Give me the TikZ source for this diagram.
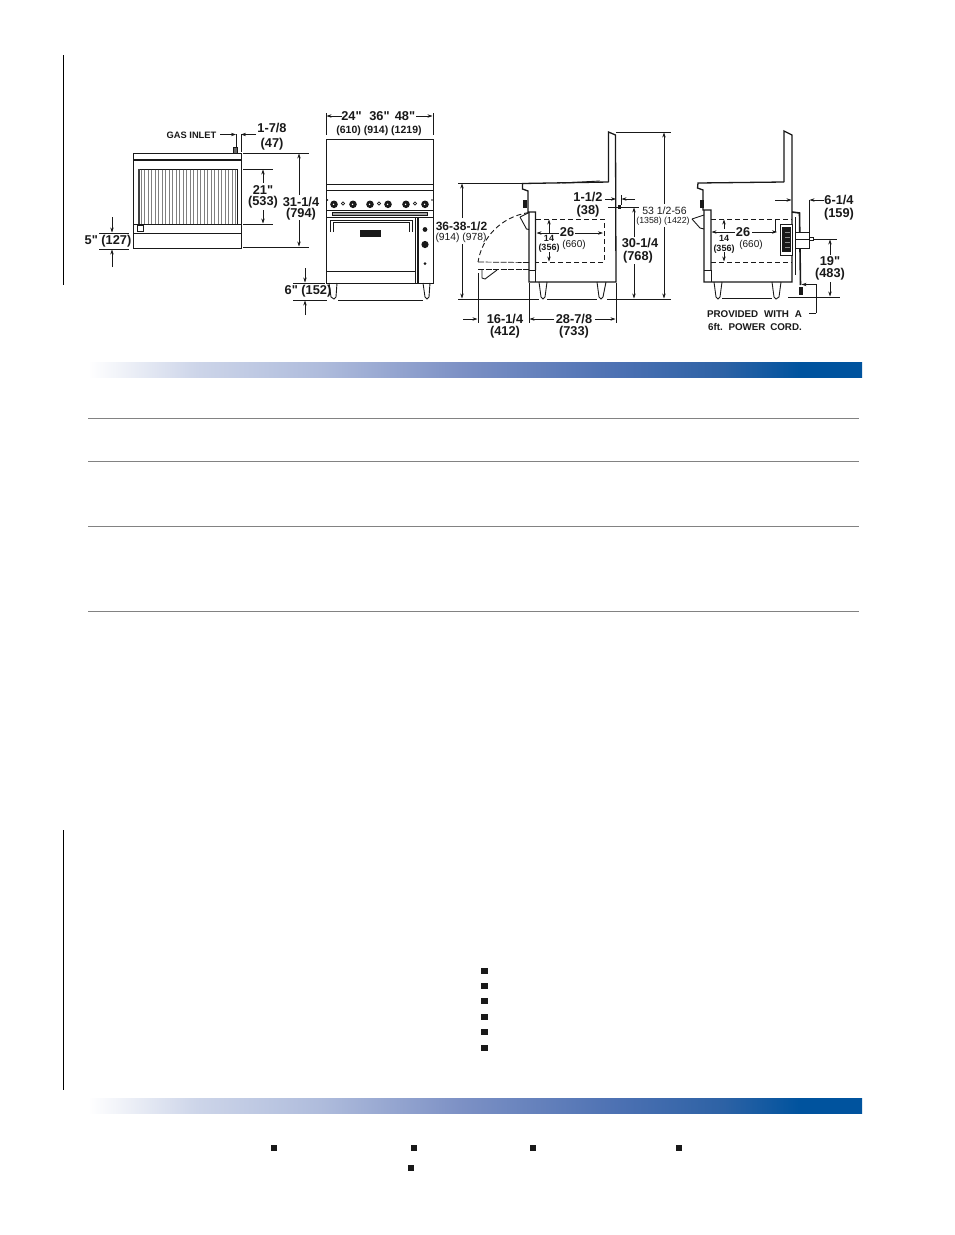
\documentclass[tikz,border=0pt]{standalone}
\usepackage{fontspec}
\setmainfont{Liberation Sans}
\newfontfamily\plainlib{Liberation Sans}
\newcommand{\inchmark}{{\plainlib\bfseries"}}
\usetikzlibrary{arrows.meta}
\definecolor{bar0}{RGB}{205,213,233}
\definecolor{bar1}{RGB}{175,188,220}
\definecolor{bar2}{RGB}{125,145,197}
\definecolor{bar3}{RGB}{75,112,178}
\definecolor{bar4}{RGB}{45,98,165}
\definecolor{bar5}{RGB}{0,83,158}
\pgfdeclarehorizontalshading{barshade}{100bp}{color(0bp)=(white);color(25bp)=(white);color(32bp)=(bar0);color(40bp)=(bar1);color(49bp)=(bar2);color(59.5bp)=(bar3);color(66bp)=(bar4);color(71bp)=(bar5);color(75bp)=(bar5);color(100bp)=(bar5)}
\definecolor{ink}{RGB}{25,25,25}
\definecolor{rule}{RGB}{130,130,130}
\tikzset{
 x=1pt,y=-1pt,
 dim/.style={line width=.7pt,draw=ink,-{Stealth[length=5pt,width=3.4pt]}},
 ext/.style={line width=.7pt,draw=ink},
 body/.style={line width=.9pt,draw=ink},
 heavy/.style={line width=1.3pt,draw=ink},
 dashln/.style={line width=.9pt,draw=ink,dash pattern=on 5pt off 3pt},
 lb/.style={inner sep=0pt,font=\fontsize{12.8}{13}\selectfont\bfseries,text=ink},
 lm/.style={inner sep=0pt,font=\fontsize{10.5}{11}\selectfont\bfseries,text=ink},
 ls/.style={inner sep=0pt,font=\fontsize{10}{11}\selectfont,text=ink},
 lt/.style={inner sep=0pt,font=\fontsize{9}{9}\selectfont\bfseries,text=ink},
 gridline/.style={line width=.8pt,draw=rule},
 bullet/.style={fill=ink,draw=none,minimum size=6.5pt,inner sep=0pt,rectangle},
 bar/.style={shading=barshade,draw=none},
}
\begin{document}
\begin{tikzpicture}
\useasboundingbox (0,0) rectangle (954,1235);
\fill[white] (0,0) rectangle (954,1235);
% margin rules
\draw[line width=1pt,black] (63.5,55) -- (63.5,285);
\draw[line width=1pt,black] (63.5,830) -- (63.5,1090);
% bars
\path[bar] (88,362) rectangle (862,377);
\path[bar] (88,1098) rectangle (862,1113);
% table rules
\foreach \y in {418.5,461.5,526.5,611.5}{\draw[gridline] (88,\y) -- (859,\y);}
% bullets
\foreach \y/\n in {971/a,986/b,1001/c,1017/d,1032/e,1048/f}{\node[bullet] (bul\n) at (484.5,\y) {};}
\node[bullet] (bt1) at (274,1148) {};
\node[bullet] (bt2) at (414,1148) {};
\node[bullet] (bt3) at (533,1148) {};
\node[bullet] (bt4) at (679,1148) {};
\node[bullet] (bt5) at (411,1168) {};
%% ---- rear view
\draw[body] (133,153) rectangle (241,248);
\draw[heavy] (133,160) -- (241,160);
\draw[body] (133,233) -- (241,233);
\draw[body] (133,224.5) -- (241,224.5);
\draw[body] (138,169) rectangle (237,224);
\foreach \x in {141,144.5,148,151,155,158.5,162,165,169,172.5,176,179,183,186.5,190,193,197,200.5,204,207,211,214.5,218,221,225,228.5,232,235}{\draw[line width=.8pt,draw=black!50] (\x,169.5) -- (\x,224);}
\draw[line width=1.5pt,draw=black!75] (139,169) -- (139,224);
\draw[body,fill=white] (137,225.5) rectangle (143,231);
\draw[body,fill=black!60] (233.5,147.5) rectangle (237,153);
\node[lt,font=\fontsize{9.3}{9}\selectfont\bfseries] (gas) at (191.5,135) {GAS INLET};
\node[lb] (t178) at (272,128) {1-7/8};
\node[lb] (t47) at (272,144) {(47)};
\node[lb] (t21) at (263,190.5) {21\inchmark};
\node[lb] (t533) at (263,202.5) {(533)};
\node[lb] (t3114) at (301,202) {31-1/4};
\node[lb] (t794) at (301,214) {(794)};
\node[lb] (t5) at (108,241) {5\inchmark{} (127)};
\draw[dim] (220,134.5) -- (236,134.5);
\draw[ext] (236,134) -- (236,148);
\draw[ext] (241,134) -- (241,152);
\draw[dim] (256,134.5) -- (241,134.5);
\draw[ext] (243,153) -- (309,153);
\draw[ext] (243,247) -- (309,247);
\draw[ext] (243,169) -- (273,169);
\draw[ext] (243,224) -- (273,224);
\draw[dim] (299,195) -- (299,153.5);
\draw[dim] (299,220) -- (299,246.5);
\draw[dim] (263,183) -- (263,169.5);
\draw[dim] (263,210) -- (263,223.5);
\draw[ext] (99,233) -- (129,233);
\draw[ext] (99,249) -- (129,249);
\draw[dim] (112,217) -- (112,232.5);
\draw[dim] (112,267) -- (112,249.5);
%% ---- front view
\draw[body] (326,139) rectangle (433,283);
\draw[body] (326,184) -- (433,184);
\draw[body] (326,190) -- (433,190);
\draw[heavy] (326,210.5) -- (433,210.5);
\draw[body,fill=black!35] (332,212) rectangle (427,215);
\draw[body] (326,217) -- (433,217);
\draw[body] (326,271) -- (415,271);
\draw[body] (415,217) -- (415,283);
\draw[heavy] (418,217) -- (418,283);
\draw[body] (330,232) -- (330,220.5) -- (412,220.5) -- (412,232);
\draw[body] (333,232) -- (333,222.5) -- (409,222.5) -- (409,232);
\fill[ink] (360,229.5) rectangle (381,237);
\foreach \x in {334,353,370,388,406,425}{\fill[ink] (\x,204.3) circle (3.8pt);\fill[white] (\x-.4,204.3) circle (.8pt);}
\foreach \x in {343,379,415}{\draw[line width=.8pt,draw=ink] (\x,203.5) circle (1.6pt);}
\fill[ink] (327.5,200) circle (.8pt);
\fill[ink] (432,200) circle (.8pt);
\fill[ink] (425,229.5) circle (2.4pt);
\fill[ink] (425,244.5) circle (3.6pt);
\fill[ink] (425,263.5) circle (1.5pt);
\draw[body] (329,283) -- (331,297) -- (334,299) -- (336,297) -- (337,283);
\draw[body] (423,283) -- (425,297) -- (427,299) -- (429,297) -- (430,283);
\draw[ext] (338,300) -- (423,300);
\node[lb] (t24) at (351.5,116) {24\inchmark};
\node[lb] (t36i) at (379.5,116) {36\inchmark};
\node[lb] (t48) at (405,116) {48\inchmark};
\node[lm] (t610) at (379,131) {(610) (914) (1219)};
\node[lb] (t6) at (308,291) {6\inchmark{} (152)};
\draw[ext] (326,113) -- (326,135);
\draw[ext] (433,113) -- (433,135);
\draw[dim] (342,116) -- (326.5,116);
\draw[dim] (416,116) -- (432.5,116);
\draw[ext] (293,283) -- (325,283);
\draw[ext] (293,300) -- (327,300);
\draw[dim] (305,268) -- (305,282.5);
\draw[dim] (305,315) -- (305,300.5);
%% ---- side view (open door)
\draw[heavy] (608.5,182) -- (608.5,132) -- (615.5,135) -- (616,282) -- (529,282) -- (529,212);
\draw[heavy] (608.5,182) -- (522.5,183.5) -- (522.5,189) -- (528,191) -- (528,212) -- (535.5,212) -- (535.5,270);
\draw[body] (562,183) -- (600,181);
\draw[body] (529,270) -- (535.5,270) -- (535.5,282);
\fill[ink] (522.5,200) rectangle (527,208);
\draw[body] (520,217) -- (529,212.5);\draw[body] (520,217) -- (526.5,229) -- (529,229.5);
\draw[dashln] (529,212.5) .. controls (500,217) and (482,238) .. (478,262);
\draw[ext,dash pattern=on 6pt off 1.5pt] (478,262) -- (529,262.5);
\draw[ext,dash pattern=on 6pt off 1.5pt] (478,269) -- (529,269);
\draw[body] (482,270) -- (482,278) -- (485,279) -- (497,270);
\draw[dashln] (536,219) -- (604,219) -- (604,262) -- (536,262);
\draw[body] (539,282) -- (541,297) -- (543,299) -- (545,297) -- (547,282);
\draw[body] (597,282) -- (599,297) -- (601,299) -- (603,297) -- (606,282);
\draw[ext] (458,299) -- (539,299);
\draw[ext] (547,299.5) -- (597,299.5);
\draw[ext] (607,299) -- (671,299);
\draw[ext] (458,183) -- (522,183);
\draw[ext] (616,132) -- (671,132);
\node[lb] (t112) at (588,197) {1-1/2};
\node[lb] (t38) at (588,211) {(38)};
\node[ls,font=\fontsize{10.5}{11}\selectfont] (t53) at (664.5,211) {53 1/2-56};
\node[ls,font=\fontsize{8.8}{9}\selectfont] (t1358) at (663,221) {(1358) (1422)};
\node[lb] (t3014) at (640,243) {30-1/4};
\node[lb] (t768) at (638,257) {(768)};
\node[lb,font=\fontsize{12}{12}\selectfont\bfseries] (t36) at (461.5,226.5) {36-38-1/2};
\node[ls,font=\fontsize{10.3}{11}\selectfont] (t914) at (461,238) {(914) (978)};
\node[lt] (t14a) at (549,238) {14};
\node[lt] (t356a) at (549,248) {(356)};
\node[lb] (t26a) at (567,232.5) {26};
\node[ls] (t660a) at (574,245) {(660)};
\node[lb] (t1614) at (505,319) {16-1/4};
\node[lb] (t412) at (505,332) {(412)};
\node[lb] (t2878) at (574,319) {28-7/8};
\node[lb] (t733) at (574,332) {(733)};
\draw[dim] (462,218) -- (462,183.5);
\draw[dim] (462,244) -- (462,298.5);
\draw[dim] (664,204) -- (664,132.5);
\draw[dim] (664,227) -- (664,298.5);
\draw[dim] (634,237) -- (634,207.5);
\draw[dim] (634,264) -- (634,298.5);
\draw[ext] (608,207) -- (639,207);
\fill[ink] (617.5,205) rectangle (621,209);
\draw[ext] (621,195) -- (621,205);
\draw[dim] (605,199) -- (616,199);
\draw[dim] (635,199) -- (621.5,199);
\draw[dim] (559,233) -- (536.5,233);
\draw[dim] (575,233) -- (603,233);
\draw[dim] (549,233) -- (549,219.5);
\draw[dim] (549,252) -- (549,261.5);
\draw[ext] (478,273) -- (478,323);
\draw[ext] (529,283) -- (529,323);
\draw[ext] (616,283) -- (616,323);
\draw[dim] (463,319) -- (477.5,319);
\draw[dim] (554,319) -- (529.5,319);
\draw[dim] (595,319) -- (615.5,319);
%% ---- side view (electric)
\draw[heavy] (784,182) -- (784,131) -- (792,135) -- (792,282) -- (704,282) -- (704,210);
\draw[heavy] (784,182) -- (698,183) -- (697.5,188) -- (703,190) -- (703,210) -- (711,210) -- (711,270);
\draw[body] (704,270) -- (711,270) -- (711,282);
\fill[ink] (700,200) rectangle (704,208);
\draw[body] (692,219) -- (704,215);\draw[body] (692,219) -- (700,228) -- (704,229);
\draw[dashln] (711,219) -- (792,219);
\draw[dashln] (711,262) -- (792,262);
\draw[ext] (775,219) -- (775,232);
\draw[body] (714,282) -- (716,297) -- (718,299) -- (720,297) -- (722,282);
\draw[body] (772,282) -- (774,297) -- (776,299) -- (779,297) -- (781,282);
\draw[ext] (722,298) -- (772,298);
\draw[ext] (788,297) -- (840,297);
\draw[body,fill=white] (780,224) rectangle (792,255);
\fill[ink] (782,227) rectangle (791,252);
\foreach \y in {232,237,242,247}{\draw[line width=.5pt,black!45] (785,\y) -- (790,\y);}
\draw[line width=1.6pt,draw=ink] (792,212) -- (799.5,213) -- (800.5,285);
\draw[body] (795,217) -- (795,275);
\draw[body,fill=white] (795,232) rectangle (809,248);
\draw[body] (795,239.5) -- (809,239.5);
\draw[body,fill=white] (809,237) rectangle (813,240);
\fill[ink] (798.5,287) rectangle (802.5,295);
\node[lb] (t614) at (839,200) {6-1/4};
\node[lb] (t159) at (839,214) {(159)};
\node[lb] (t19) at (830,261) {19\inchmark};
\node[lb] (t483) at (830,274) {(483)};
\node[lt] (t14b) at (724,238) {14};
\node[lt] (t356b) at (724,249) {(356)};
\node[lb] (t26b) at (743,232.5) {26};
\node[ls] (t660b) at (751,245) {(660)};
\node[lb,font=\fontsize{9.8}{10}\selectfont\bfseries] (tp1) at (754.5,314) {PROVIDED\hspace{3pt} WITH\hspace{3pt} A};
\node[lb,font=\fontsize{9.8}{10}\selectfont\bfseries] (tp2) at (755,327) {6ft.\hspace{2pt} POWER\hspace{2pt} CORD.};
\draw[ext] (809,200) -- (809,232);
\draw[dim] (824,200) -- (809.5,200);
\draw[dim] (775,200) -- (791.5,200);
\draw[ext] (813,239) -- (837,239);
\draw[dim] (830,255) -- (830,239.5);
\draw[dim] (830,282) -- (830,296.5);
\draw[dim] (735,232) -- (711.5,232);
\draw[dim] (752,232) -- (777,232);
\draw[dim] (724,229) -- (724,219.5);
\draw[dim] (724,252) -- (724,261.5);
\draw[dim] (816,313) -- (816,284.5) -- (801.5,284.5);
\draw[ext] (816,313) -- (809,313);
\end{tikzpicture}
\end{document}
